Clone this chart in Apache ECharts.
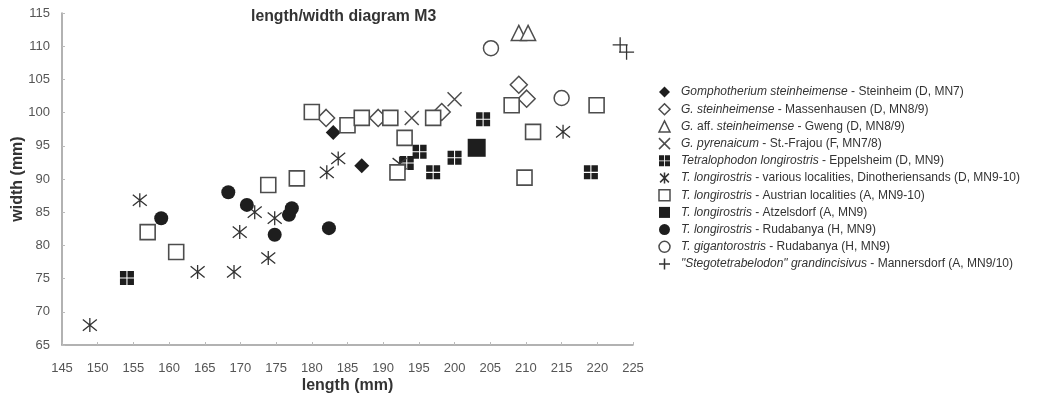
<!DOCTYPE html>
<html>
<head>
<meta charset="utf-8">
<script src="https://cdn.jsdelivr.net/npm/echarts@6/dist/echarts.min.js"></script>
<style>
  html, body { margin: 0; padding: 0; background: #fff; }
  #chart { width: 1041px; height: 397px; }
</style>
</head>
<body>
<div id="chart"></div>
<script>
// measured points, [length, width] in mm
const gomphoSteinheim = [[183, 97], [187, 92]];
const gSteinMassenhausen = [[182, 99.2], [189.3, 99.2], [198.2, 100.1], [209, 104.2], [210.1, 102.1]];
const gAffGweng = [[209, 112], [210.3, 112]];
const gPyrenaicum = [[194, 99.2], [200, 102]];
const tetraEppelsheim = [[154.1, 75.1], [193.3, 92.4], [195.1, 94.1], [197, 91], [200, 93.2], [204, 99], [219.1, 91]];
const tLongDinotheriensands = [[148.9, 68], [155.9, 86.8], [164, 76], [169.1, 76], [169.9, 82], [172, 85],
  [173.9, 78.1], [174.8, 84.1], [182.1, 91], [183.7, 93.1], [192.3, 92.3], [215.2, 97.1]];
const tLongAustria = [[157, 82], [161, 79], [173.9, 89.1], [177.9, 90.1], [180, 100.1], [185, 98.1], [187, 99.2],
  [191, 99.2], [192, 91], [193, 96.2], [197, 99.2], [208, 101.1], [209.8, 90.2], [211, 97.1], [219.9, 101.1]];
const tLongAtzelsdorf = [[203.1, 94.7]];
const tLongRudabanya = [[158.9, 84.1], [168.3, 88], [170.9, 86.1], [174.8, 81.6], [176.8, 84.6], [177.2, 85.6], [182.4, 82.6]];
const tGiganRudabanya = [[205.1, 109.7], [215, 102.2]];
const stegoMannersdorf = [[223.2, 110.2], [224.1, 109.1]];

// legend text, _..._ = italic
const legendLabels = [
  '_Gomphotherium steinheimense_ - Steinheim (D, MN7)',
  '_G. steinheimense_ - Massenhausen (D, MN8/9)',
  '_G._ aff. _steinheimense_ - Gweng (D, MN8/9)',
  '_G. pyrenaicum_ - St.-Frajou (F, MN7/8)',
  '_Tetralophodon longirostris_ - Eppelsheim (D, MN9)',
  '_T. longirostris_ - various localities, Dinotheriensands (D, MN9-10)',
  '_T. longirostris_ - Austrian localities (A, MN9-10)',
  '_T. longirostris_ - Atzelsdorf (A, MN9)',
  '_T. longirostris_ - Rudabanya (H, MN9)',
  '_T. gigantorostris_ - Rudabanya (H, MN9)',
  '_"Stegotetrabelodon" grandincisivus_ - Mannersdorf (A, MN9/10)'
];
const xTicks = { min: 145, max: 225, step: 5 };
const yTicks = { min: 65, max: 115, step: 5 };

const DARK = '#1e1e1e';
const LINE = '#4d4d4d';
const FONT = 'Liberation Sans';
const crossSquare = 'path://M0,0H6V6H0Z M7,0H13V6H7Z M0,7H6V13H0Z M7,7H13V13H7Z';
const asterisk = 'path://M1,1L9,9M9,1L1,9M5,0L5,10';
const xMark = 'path://M0,0L10,10M10,0L0,10';
const plusMark = 'path://M5,0L5,10M0,5L10,5';

const plainName = (s) => s.replace(/_/g, '');
const richByName = {};
legendLabels.forEach((s) => {
  richByName[plainName(s)] = s.split('_').map((part, i) =>
    part ? (i % 2 ? '{i|' + part + '}' : '{n|' + part + '}') : '').join('');
});

// symbol, size, fill, border per series
const styles = [
  { symbol: 'diamond', size: 15, fill: DARK, border: DARK, bw: 0 },
  { symbol: 'diamond', size: 17, fill: '#fff', border: LINE, bw: 1.5 },
  { symbol: 'triangle', size: 15, fill: '#fff', border: LINE, bw: 1.5 },
  { symbol: xMark, size: 14, fill: 'none', border: LINE, bw: 1.5 },
  { symbol: crossSquare, size: 14, fill: DARK, border: DARK, bw: 0 },
  { symbol: asterisk, size: 14, fill: 'none', border: '#333', bw: 1.3 },
  { symbol: 'rect', size: 15, fill: '#fff', border: LINE, bw: 1.6 },
  { symbol: 'rect', size: 18, fill: DARK, border: DARK, bw: 0 },
  { symbol: 'circle', size: 14, fill: DARK, border: DARK, bw: 0 },
  { symbol: 'circle', size: 15, fill: '#fff', border: LINE, bw: 1.5 },
  { symbol: plusMark, size: 15, fill: 'none', border: '#333', bw: 1.3 }
];
const seriesData = [gomphoSteinheim, gSteinMassenhausen, gAffGweng, gPyrenaicum, tetraEppelsheim,
  tLongDinotheriensands, tLongAustria, tLongAtzelsdorf, tLongRudabanya, tGiganRudabanya, stegoMannersdorf];

const chart = echarts.init(document.getElementById('chart'));

const series = seriesData.map((data, i) => ({
  type: 'scatter',
  name: plainName(legendLabels[i]),
  data: data,
  symbol: styles[i].symbol,
  symbolSize: styles[i].size,
  itemStyle: { color: styles[i].fill, borderColor: styles[i].border, borderWidth: styles[i].bw, opacity: 1 },
  emphasis: { disabled: true }
}));

const legendData = legendLabels.map((s, i) => ({
  name: plainName(s),
  icon: styles[i].symbol,
  itemStyle: {
    color: styles[i].fill,
    borderColor: styles[i].border,
    borderWidth: styles[i].bw ? 1.5 : 0
  }
}));

chart.setOption({
  animation: false,
  backgroundColor: '#fff',
  title: {
    text: 'length/width diagram M3',
    left: 251, top: 9, padding: 0,
    textStyle: { fontFamily: FONT, fontSize: 15.8, fontWeight: 'bold', color: '#333' }
  },
  grid: { left: 62, right: 408, top: 13, bottom: 52, outerBoundsMode: 'none' },
  xAxis: {
    type: 'value', min: xTicks.min, max: xTicks.max, interval: xTicks.step,
    name: 'length (mm)', nameLocation: 'middle', nameGap: 33, nameMoveOverlap: false,
    nameTextStyle: { fontFamily: FONT, fontSize: 16, fontWeight: 'bold', color: '#333' },
    axisLine: { lineStyle: { color: '#999', width: 1.5 } },
    axisTick: { show: true, inside: true, length: 3, lineStyle: { color: '#bbb' } },
    axisLabel: { margin: 17, fontFamily: FONT, fontSize: 13, color: '#555' },
    splitLine: { show: false }
  },
  yAxis: {
    type: 'value', min: yTicks.min, max: yTicks.max, interval: yTicks.step,
    name: 'width (mm)', nameLocation: 'middle', nameGap: 36, nameMoveOverlap: false,
    nameTextStyle: { fontFamily: FONT, fontSize: 16, fontWeight: 'bold', color: '#333' },
    axisLine: { show: true, lineStyle: { color: '#999', width: 1.5 } },
    axisTick: { show: true, inside: true, length: 3, lineStyle: { color: '#bbb' } },
    axisLabel: { margin: 12, fontFamily: FONT, fontSize: 13, color: '#555' },
    splitLine: { show: false }
  },
  legend: {
    orient: 'vertical',
    left: 656.5, top: 83.5, padding: 0,
    itemWidth: 11, itemHeight: 11, itemGap: 0.2,
    selectedMode: false,
    data: legendData,
    formatter: (name) => richByName[name] || name,
    textStyle: {
      fontFamily: FONT, fontSize: 12, lineHeight: 17, color: '#333', padding: [0, 0, 0, 6],
      rich: {
        i: { fontFamily: FONT, fontSize: 12, lineHeight: 17, fontStyle: 'italic', color: '#333' },
        n: { fontFamily: FONT, fontSize: 12, lineHeight: 17, color: '#333' }
      }
    }
  },
  series: series
});
</script>
</body>
</html>
